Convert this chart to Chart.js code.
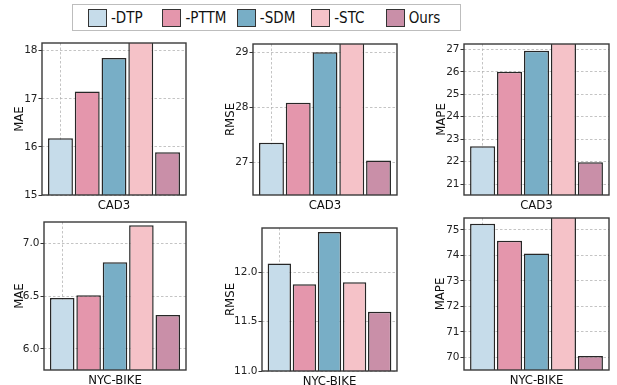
<!DOCTYPE html>
<html>
<head>
<meta charset="utf-8">
<script src="https://cdn.jsdelivr.net/npm/chart.js@4.4.1/dist/chart.umd.min.js"></script>
<style>
  html, body { margin: 0; padding: 0; background: #fff; }
  #wrap { position: relative; width: 617px; height: 385px; overflow: hidden; }
  .panel { position: absolute; }
  #legend {
    position: absolute; left: 72px; top: 4px; width: 389px; height: 27px;
    border: 1.5px solid #bdbdbd; display: flex; align-items: center;
    padding-left: 15px; box-sizing: border-box;
    font-family: "Liberation Sans Narrow", "DejaVu Sans Condensed", "Liberation Sans", sans-serif;
    font-size: 15px; color: #111;
  }
  .item { width: 78px; display: flex; align-items: center; }
  .sw { width: 17px; height: 16px; border: 1px solid #333; margin-right: 4px; }
</style>
</head>
<body>
<div id="wrap">
  <div id="legend"></div>
</div>
<script>
// methods + colours
const methods = ['-DTP', '-PTTM', '-SDM', '-STC', 'Ours'];
const colors = ['#c6dcea', '#e496ac', '#78aec6', '#f5c2c8', '#c98fa8'];

// values (STC is clipped on several panels)
const cad3Mae = [16.18, 17.15, 17.85, 18.6, 15.89];
const cad3Rmse = [27.35, 28.08, 29.0, 29.6, 27.03];
const cad3Mape = [22.68, 26.0, 26.94, 27.8, 21.97];
const nycMae = [6.48, 6.507, 6.82, 7.17, 6.32];
const nycRmse = [12.09, 11.88, 12.41, 11.90, 11.60];
const nycMape = [75.24, 74.58, 74.08, 76.0, 70.05];

const datasetNames = ['CAD3', 'CAD3', 'CAD3', 'NYC-BIKE', 'NYC-BIKE', 'NYC-BIKE'];
const metricNames = ['MAE', 'RMSE', 'MAPE', 'MAE', 'RMSE', 'MAPE'];
const seriesList = [cad3Mae, cad3Rmse, cad3Mape, nycMae, nycRmse, nycMape];

// y ranges / tick steps per panel
const yMins = [15, 26.4, 20.51, 5.8, 11.0, 69.5];
const yMaxs = [18.16, 29.15, 27.24, 7.2, 12.45, 75.47];
const ySteps = [1, 1, 1, 0.5, 0.5, 1];
const yDecimals = [0, 0, 0, 1, 1, 0];

// plot-area boxes in the page (left, top, right, bottom) + y-title offset
const boxes = [
  { l: 42, t: 43, r: 186, b: 195, title: 22 },
  { l: 253, t: 44, r: 397, b: 195, title: 22 },
  { l: 464, t: 44, r: 609, b: 195, title: 22 },
  { l: 44, t: 222, r: 186, b: 370, title: 24 },
  { l: 262, t: 228, r: 397, b: 371, title: 31 },
  { l: 464, t: 218, r: 609, b: 370, title: 23 }
];

const yW = 40, xH = 18, padTop = 8, padR = 4;
const tickFont = { family: 'DejaVu Sans', size: 10.5 };
const titleFont = { family: '"Liberation Sans Narrow", "DejaVu Sans Condensed", sans-serif', size: 13 };

// legend
const legend = document.getElementById('legend');
methods.forEach((m, i) => {
  const it = document.createElement('div');
  it.className = 'item';
  it.innerHTML = '<span class="sw" style="background:' + colors[i] + '"></span><span>' + m + '</span>';
  legend.appendChild(it);
});

// axes frame on top of the bars
const framePlugin = {
  id: 'frame',
  afterDatasetsDraw(chart) {
    const a = chart.chartArea;
    const ctx = chart.ctx;
    ctx.save();
    ctx.strokeStyle = '#3a3a3a';
    ctx.lineWidth = 1.4;
    ctx.strokeRect(a.left, a.top, a.right - a.left, a.bottom - a.top);
    ctx.restore();
  }
};

const wrap = document.getElementById('wrap');

seriesList.forEach((vals, p) => {
  const bx = boxes[p];
  const div = document.createElement('div');
  div.className = 'panel';
  div.style.left = (bx.l - yW) + 'px';
  div.style.top = (bx.t - padTop) + 'px';
  const canvas = document.createElement('canvas');
  canvas.width = yW + (bx.r - bx.l) + padR;
  canvas.height = padTop + (bx.b - bx.t) + xH;
  div.appendChild(canvas);
  wrap.appendChild(div);

  new Chart(canvas.getContext('2d'), {
    type: 'bar',
    data: {
      datasets: [{
        data: vals.map((v, i) => ({ x: i, y: v })),
        backgroundColor: colors,
        borderColor: 'rgba(15,15,15,0.9)',
        borderWidth: 1.5,
        borderSkipped: 'bottom',
        categoryPercentage: 1,
        barPercentage: 0.93,
        clip: 0
      }]
    },
    options: {
      responsive: false,
      animation: false,
      layout: { padding: { top: padTop, right: padR, left: 0, bottom: 0 } },
      plugins: { legend: { display: false }, tooltip: { enabled: false } },
      scales: {
        x: {
          type: 'linear',
          min: -0.69,
          max: 4.69,
          offset: false,
          afterBuildTicks: (s) => { s.ticks = [{ value: 0 }]; },
          afterFit: (s) => { s.height = xH; },
          ticks: { display: false },
          grid: { color: '#b5b5b5', lineWidth: 0.8, drawTicks: false, offset: false },
          border: { display: false, dash: [2.5, 2] },
          title: {
            display: true, text: datasetNames[p], color: '#111',
            font: titleFont, padding: { top: 0, bottom: 0 }
          }
        },
        y: {
          min: yMins[p],
          max: yMaxs[p],
          afterFit: (s) => { s.width = yW; },
          ticks: {
            stepSize: ySteps[p],
            includeBounds: false,
            color: '#222',
            font: tickFont,
            padding: 1,
            callback: (v) => Number(v).toFixed(yDecimals[p])
          },
          grid: {
            color: '#b5b5b5', lineWidth: 0.8,
            tickLength: 3.5, tickColor: '#333', tickWidth: 1, tickBorderDash: []
          },
          border: { display: false, dash: [2.5, 2] },
          title: {
            display: true, text: metricNames[p], color: '#111', font: titleFont,
            padding: { top: yW - bx.title - 7.8, bottom: 0 }
          }
        }
      }
    },
    plugins: [framePlugin]
  });
});
</script>
</body>
</html>
